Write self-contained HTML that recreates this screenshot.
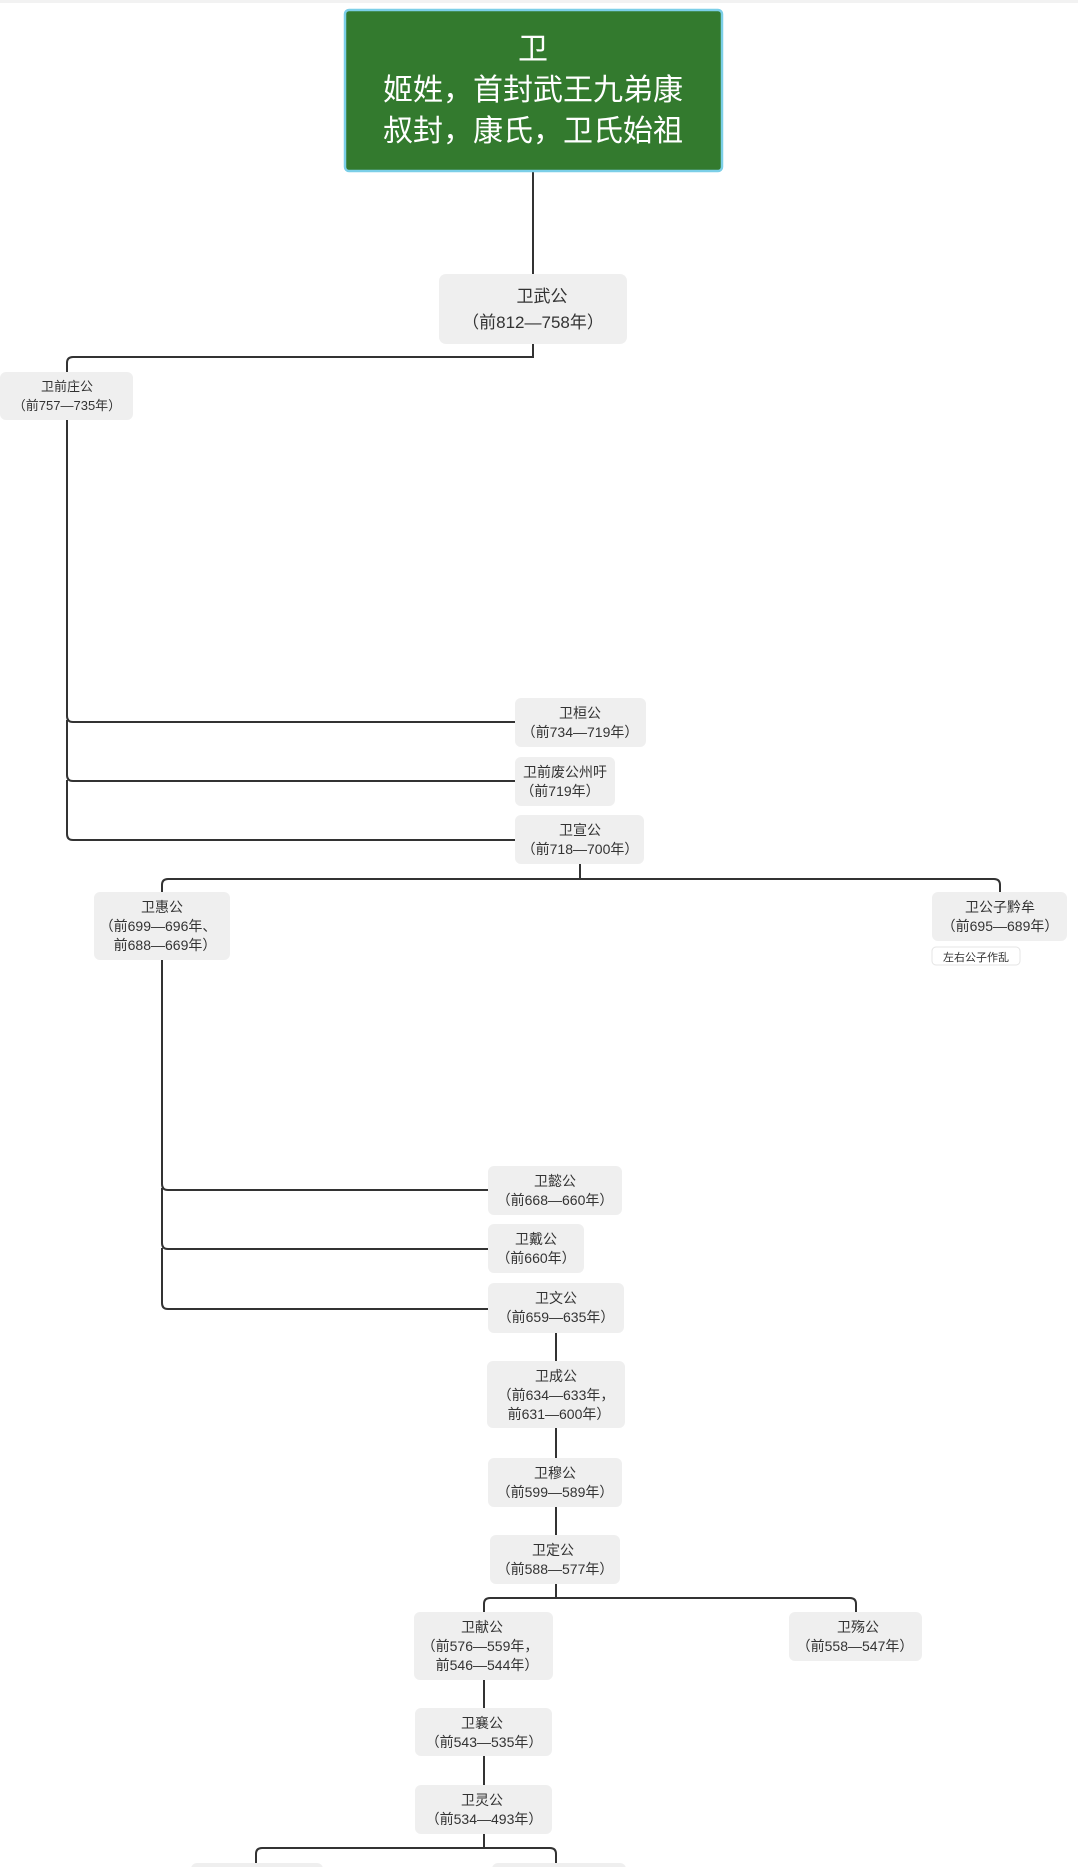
<!DOCTYPE html>
<html><head><meta charset="utf-8"><style>
html,body{margin:0;padding:0;background:#fff;}
svg{display:block;}
text{font-family:"Liberation Sans","Noto Sans CJK SC",sans-serif;fill:#333;font-size:14px;text-anchor:middle;}
.n{fill:#efefef;}
.l{fill:none;stroke:#333;stroke-width:2;}
</style></head><body>
<svg width="1078" height="1867" viewBox="0 0 1078 1867">
<rect x="0" y="0" width="1078" height="3" fill="#f2f2f2"/>
<!-- connectors -->
<path class="l" d="M533 171V274"/>
<path class="l" d="M533 344V357H73Q67 357 67 363V372"/>
<path class="l" d="M67 420V716Q67 722 73 722H515M67 720V775Q67 781 73 781H515M67 780V834Q67 840 73 840H515"/>
<path class="l" d="M580 864V879M168 879H994Q1000 879 1000 885V892M168 879Q162 879 162 885V892"/>
<path class="l" d="M162 960V1184Q162 1190 168 1190H488M162 1188V1243Q162 1249 168 1249H488M162 1248V1303Q162 1309 168 1309H488"/>
<path class="l" d="M556 1333V1361M556 1428V1458M556 1507V1535M556 1584V1598"/>
<path class="l" d="M490 1598H850Q856 1598 856 1604V1612M490 1598Q484 1598 484 1604V1612"/>
<path class="l" d="M484 1680V1708M484 1756V1785M484 1834V1848"/>
<path class="l" d="M262 1848H550Q556 1848 556 1854V1863M262 1848Q256 1848 256 1854V1863"/>
<!-- root -->
<rect x="345" y="10" width="377" height="161" rx="4" fill="#337a2e" stroke="#7ccfe8" stroke-width="2.5"/>
<text x="533" y="59" style="font-size:30px;fill:#fff">卫</text>
<text x="533" y="100" style="font-size:30px;fill:#fff">姬姓，首封武王九弟康</text>
<text x="533" y="141" style="font-size:30px;fill:#fff">叔封，康氏，卫氏始祖</text>
<!-- nodes -->
<rect class="n" x="439" y="274" width="188" height="70" rx="7"/>
<text x="542" y="302" style="font-size:17px">卫武公</text>
<text x="533" y="328" style="font-size:17px">（前812—758年）</text>

<rect class="n" x="0" y="372" width="133" height="48" rx="6"/>
<text x="67" y="391" style="font-size:13px">卫前庄公</text>
<text x="67" y="410" style="font-size:13px">（前757—735年）</text>

<rect class="n" x="515" y="698" width="131" height="49" rx="6"/>
<text x="580" y="718">卫桓公</text>
<text x="580" y="737">（前734—719年）</text>

<rect class="n" x="515" y="757" width="100" height="49" rx="6"/>
<text x="565" y="777">卫前废公州吁</text>
<text x="560" y="796">（前719年）</text>

<rect class="n" x="515" y="815" width="129" height="49" rx="6"/>
<text x="580" y="835">卫宣公</text>
<text x="580" y="854">（前718—700年）</text>

<rect class="n" x="94" y="892" width="136" height="68" rx="6"/>
<text x="162" y="912">卫惠公</text>
<text x="158" y="931">（前699—696年、</text>
<text x="165" y="950">前688—669年）</text>

<rect class="n" x="932" y="892" width="135" height="49" rx="6"/>
<text x="1000" y="912">卫公子黔牟</text>
<text x="1000" y="931">（前695—689年）</text>
<rect x="932" y="947" width="88" height="18" rx="4" fill="#fff" stroke="#e4e4e4"/>
<text x="976" y="961" style="font-size:11px">左右公子作乱</text>

<rect class="n" x="488" y="1166" width="134" height="49" rx="6"/>
<text x="555" y="1186">卫懿公</text>
<text x="555" y="1205">（前668—660年）</text>

<rect class="n" x="488" y="1224" width="96" height="49" rx="6"/>
<text x="536" y="1244">卫戴公</text>
<text x="536" y="1263">（前660年）</text>

<rect class="n" x="488" y="1283" width="136" height="50" rx="6"/>
<text x="556" y="1303">卫文公</text>
<text x="556" y="1322">（前659—635年）</text>

<rect class="n" x="487" y="1361" width="138" height="67" rx="6"/>
<text x="556" y="1381">卫成公</text>
<text x="556" y="1400">（前634—633年，</text>
<text x="559" y="1419">前631—600年）</text>

<rect class="n" x="488" y="1458" width="134" height="49" rx="6"/>
<text x="555" y="1478">卫穆公</text>
<text x="555" y="1497">（前599—589年）</text>

<rect class="n" x="490" y="1535" width="130" height="49" rx="6"/>
<text x="553" y="1555">卫定公</text>
<text x="555" y="1574">（前588—577年）</text>

<rect class="n" x="414" y="1612" width="139" height="68" rx="6"/>
<text x="482" y="1632">卫献公</text>
<text x="480" y="1651">（前576—559年，</text>
<text x="487" y="1670">前546—544年）</text>

<rect class="n" x="789" y="1612" width="133" height="49" rx="6"/>
<text x="858" y="1632">卫殇公</text>
<text x="855" y="1651">（前558—547年）</text>

<rect class="n" x="415" y="1708" width="137" height="48" rx="6"/>
<text x="482" y="1728">卫襄公</text>
<text x="484" y="1747">（前543—535年）</text>

<rect class="n" x="415" y="1785" width="137" height="49" rx="6"/>
<text x="482" y="1805">卫灵公</text>
<text x="484" y="1824">（前534—493年）</text>

<rect class="n" x="191" y="1863" width="132" height="20" rx="6"/>
<rect class="n" x="492" y="1863" width="134" height="20" rx="6"/>
</svg>
</body></html>
